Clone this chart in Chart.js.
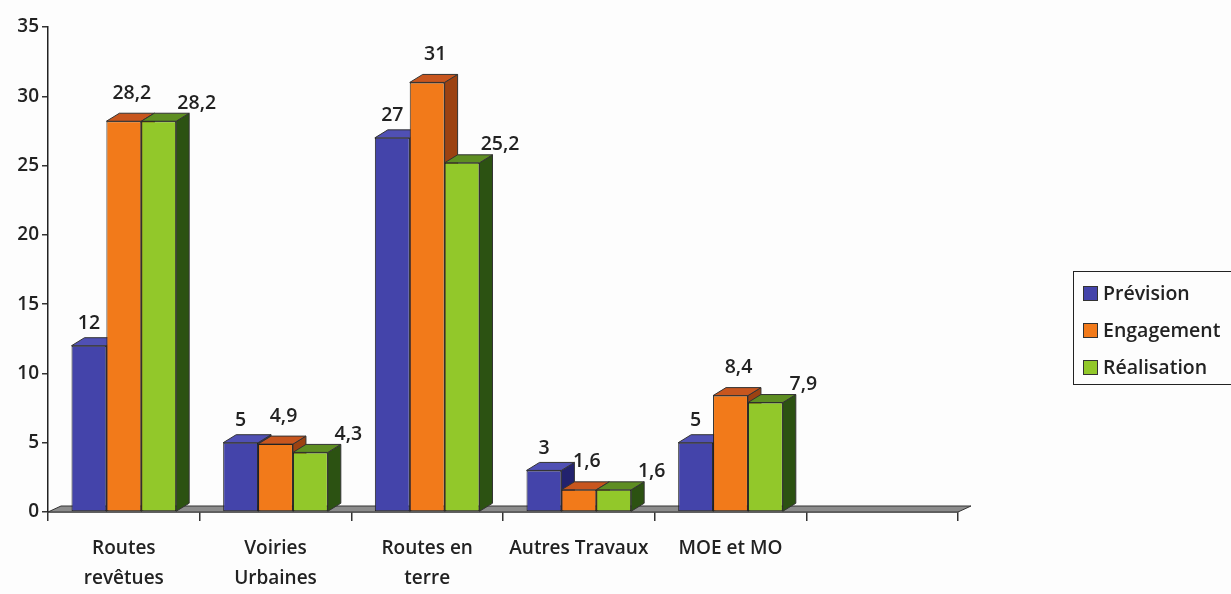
<!DOCTYPE html>
<html>
<head>
<meta charset="utf-8">
<script src="https://cdn.jsdelivr.net/npm/chart.js@4"></script>
<style>
  body { margin: 0; background: #fdfdfd; overflow: hidden; }
  #wrap { position: relative; width: 1231px; height: 594px; }
  #legend {
    position: absolute; left: 1073px; top: 271px; width: 170px; height: 114px;
    border: 1.5px solid #222; box-sizing: border-box; padding: 6px 0 0 9px;
    font-family: 'Open Sans', sans-serif; font-weight: 600; font-size: 19.5px; color: #222;
  }
  #legend div { height: 37px; line-height: 30px; white-space: nowrap; }
  #legend span { display: inline-block; width: 13px; height: 13px; border: 1px solid #333; margin-right: 5px; vertical-align: -1px; }
</style>
</head>
<body>
<div id="wrap">
  <canvas id="barChart" width="1231" height="594"></canvas>
  <div id="legend"></div>
</div>
<script>
var categories = [['Routes', 'revêtues'], ['Voiries', 'Urbaines'], ['Routes en', 'terre'], 'Autres Travaux', 'MOE et MO', ''];
var prevision = [12, 5, 27, 3, 5, null];
var engagement = [28.2, 4.9, 31, 1.6, 8.4, null];
var realisation = [28.2, 4.3, 25.2, 1.6, 7.9, null];
var yMax = 35;
var yStep = 5;

var blue = '#4444aa', blueTop = '#5050b4', blueSide = '#22226e';
var orange = '#f27a1a', orangeTop = '#c8561e', orangeSide = '#9c4212';
var green = '#92c82a', greenTop = '#5e8e22', greenSide = '#2c5212';

var DX = 13, DY = 8;

// fake 3d: floor, top and side faces drawn behind the front faces
var depthPlugin = {
    id: 'depth',
    beforeDatasetsDraw: function(chart) {
        var ctx = chart.ctx;
        var area = chart.chartArea;
        ctx.save();
        ctx.fillStyle = '#8c8c8c';
        ctx.strokeStyle = '#333';
        ctx.lineWidth = 1;
        ctx.beginPath();
        ctx.moveTo(area.left, area.bottom);
        ctx.lineTo(area.left + DX, area.bottom - DY + 2);
        ctx.lineTo(area.right + DX, area.bottom - DY + 2);
        ctx.lineTo(area.right, area.bottom);
        ctx.closePath();
        ctx.fill();
        ctx.stroke();

        chart.data.datasets.forEach(function(ds, i) {
            var meta = chart.getDatasetMeta(i);
            meta.data.forEach(function(bar, j) {
                if (ds.data[j] == null) return;
                var l = bar.x - bar.width / 2, r = bar.x + bar.width / 2;
                var t = bar.y, b = bar.base;
                ctx.fillStyle = ds.sideColor;
                ctx.beginPath();
                ctx.moveTo(r, t);
                ctx.lineTo(r + DX, t - DY);
                ctx.lineTo(r + DX, b - DY);
                ctx.lineTo(r, b);
                ctx.closePath();
                ctx.fill();
                ctx.stroke();
                ctx.fillStyle = ds.topColor;
                ctx.beginPath();
                ctx.moveTo(l, t);
                ctx.lineTo(l + DX, t - DY);
                ctx.lineTo(r + DX, t - DY);
                ctx.lineTo(r, t);
                ctx.closePath();
                ctx.fill();
                ctx.stroke();
            });
        });
        ctx.restore();
    }
};

var valueLabels = {
    id: 'valueLabels',
    afterDatasetsDraw: function(chart) {
        var ctx = chart.ctx;
        ctx.save();
        ctx.font = '600 19.5px "Open Sans"';
        ctx.fillStyle = '#222';
        ctx.textAlign = 'center';
        ctx.textBaseline = 'middle';
        chart.data.datasets.forEach(function(ds, i) {
            chart.getDatasetMeta(i).data.forEach(function(bar, j) {
                var v = ds.data[j];
                if (v == null) return;
                ctx.fillText(String(v).replace('.', ','), bar.x + ds.labelDx, bar.y + ds.labelDy);
            });
        });
        ctx.restore();
    }
};

var ctx = document.getElementById('barChart').getContext('2d');

var chart = new Chart(ctx, {
    type: 'bar',
    data: {
        labels: categories,
        datasets: [{
            label: 'Prévision',
            data: prevision,
            backgroundColor: blue,
            topColor: blueTop,
            sideColor: blueSide,
            labelDx: 0,
            labelDy: -22
        }, {
            label: 'Engagement',
            data: engagement,
            backgroundColor: orange,
            topColor: orangeTop,
            sideColor: orangeSide,
            labelDx: 8,
            labelDy: -28
        }, {
            label: 'Réalisation',
            data: realisation,
            backgroundColor: green,
            topColor: greenTop,
            sideColor: greenSide,
            labelDx: 38,
            labelDy: -18
        }]
    },
    options: {
        responsive: false,
        animation: false,
        layout: {
            padding: { top: 27, right: 273, left: 0, bottom: 0 }
        },
        datasets: {
            bar: {
                borderColor: '#222',
                borderWidth: 1,
                borderSkipped: false,
                barPercentage: 1,
                categoryPercentage: 0.69
            }
        },
        plugins: {
            legend: { display: false },
            tooltip: { enabled: false }
        },
        scales: {
            x: {
                border: { display: true, color: '#222', width: 1.5 },
                grid: {
                    drawOnChartArea: false,
                    drawTicks: true,
                    tickLength: 9,
                    color: '#333',
                    lineWidth: 1.5
                },
                ticks: {
                    color: '#222',
                    font: { family: 'Open Sans', size: 19, weight: '600', lineHeight: 1.6 },
                    maxRotation: 0,
                    autoSkip: false,
                    padding: 12
                },
                afterFit: function(scale) { scale.height = 82; }
            },
            y: {
                min: 0,
                max: yMax,
                border: { display: true, color: '#222', width: 1.5 },
                grid: {
                    drawOnChartArea: false,
                    tickLength: 6,
                    color: '#333',
                    lineWidth: 1.5
                },
                ticks: {
                    stepSize: yStep,
                    color: '#222',
                    font: { family: 'Open Sans', size: 19, weight: '600' },
                    padding: 3
                },
                afterFit: function(scale) { scale.width = 48; }
            }
        }
    },
    plugins: [depthPlugin, valueLabels]
});

// legend box on the right, cut by the page edge like the scan
var legend = document.getElementById('legend');
chart.data.datasets.forEach(function(ds) {
    var row = document.createElement('div');
    var sw = document.createElement('span');
    sw.style.background = ds.backgroundColor;
    row.appendChild(sw);
    row.appendChild(document.createTextNode(ds.label));
    legend.appendChild(row);
});
</script>
</body>
</html>
